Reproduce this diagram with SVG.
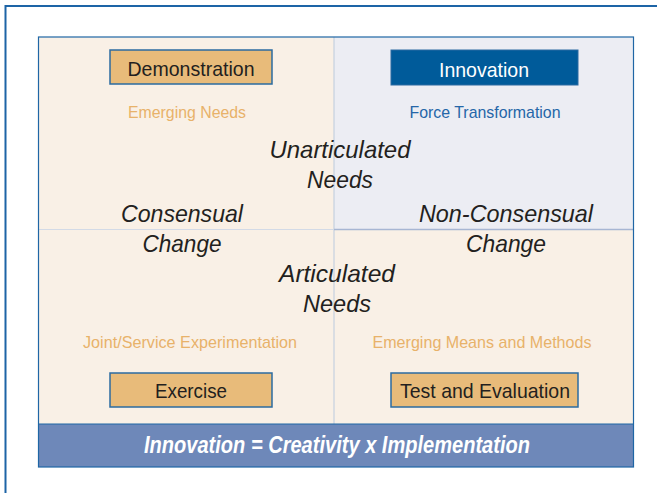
<svg xmlns="http://www.w3.org/2000/svg" width="657" height="493" viewBox="0 0 657 493">
<style>
.box{fill:#E8BB7A;stroke:#2B6BA1;stroke-width:1.5}
.t{font-family:"Liberation Sans",Arial,sans-serif;text-anchor:middle}
.lbl{font-size:21px;fill:#231F20}
.sub{font-size:17px}
.it{font-size:24px;font-style:italic;fill:#231F20}
</style>
<rect width="657" height="493" fill="#FFFFFF"/>
<rect x="5.5" y="6" width="700" height="600" fill="none" stroke="#1D64A6" stroke-width="2"/>
<g id="quadrants">
<rect x="38" y="37" width="296" height="192" fill="#F9F0E6"/>
<rect x="334" y="37" width="299" height="192" fill="#ECEDF3"/>
<rect x="38" y="229" width="595" height="195" fill="#F9F0E6"/>
<line x1="334" y1="37" x2="334" y2="424" stroke="#C5D0DF" stroke-width="1.2"/>
<line x1="38" y1="229.5" x2="334" y2="229.5" stroke="#D3DAE6" stroke-width="1.2"/>
<line x1="334" y1="229.5" x2="633" y2="229.5" stroke="#A7B6D3" stroke-width="1.5"/>
<rect x="38" y="424" width="595" height="43" fill="#6E88B9"/>
<rect x="38.5" y="37" width="595" height="430" fill="none" stroke="#1F66A5" stroke-width="1.2"/>
<line x1="38" y1="424" x2="633" y2="424" stroke="#1F66A5" stroke-width="1"/>
</g>
<g id="demonstration">
<rect class="box" x="110" y="50" width="162" height="34"/>
<text class="t lbl" x="191" y="76" textLength="127" lengthAdjust="spacingAndGlyphs">Demonstration</text>
</g>
<g id="innovation">
<rect x="391" y="50" width="187" height="35" fill="#005B9A" stroke="#2B6BA1" stroke-width="1"/>
<text class="t lbl" x="484" y="77" style="fill:#FFFFFF" textLength="90" lengthAdjust="spacingAndGlyphs">Innovation</text>
</g>
<g id="exercise">
<rect class="box" x="110" y="373" width="162" height="34"/>
<text class="t lbl" x="191" y="398" textLength="72" lengthAdjust="spacingAndGlyphs">Exercise</text>
</g>
<g id="test-evaluation">
<rect class="box" x="391" y="373" width="187" height="34"/>
<text class="t lbl" x="485" y="398" textLength="170" lengthAdjust="spacingAndGlyphs">Test and Evaluation</text>
</g>
<g id="labels">
<text class="t sub" x="187" y="118" fill="#E8B26A" textLength="118" lengthAdjust="spacingAndGlyphs">Emerging Needs</text>
<text class="t sub" x="485" y="118" fill="#2566A8" textLength="151" lengthAdjust="spacingAndGlyphs">Force Transformation</text>
<text class="t sub" x="190" y="348" fill="#E8B26A" textLength="214" lengthAdjust="spacingAndGlyphs">Joint/Service Experimentation</text>
<text class="t sub" x="482" y="348" fill="#E8B26A" textLength="219" lengthAdjust="spacingAndGlyphs">Emerging Means and Methods</text>
<text class="t it" x="340" y="158" textLength="141" lengthAdjust="spacingAndGlyphs">Unarticulated</text>
<text class="t it" x="340" y="188" textLength="66" lengthAdjust="spacingAndGlyphs">Needs</text>
<text class="t it" x="182" y="222" textLength="122" lengthAdjust="spacingAndGlyphs">Consensual</text>
<text class="t it" x="182" y="252" textLength="79" lengthAdjust="spacingAndGlyphs">Change</text>
<text class="t it" x="506" y="222" textLength="174" lengthAdjust="spacingAndGlyphs">Non-Consensual</text>
<text class="t it" x="506" y="252" textLength="80" lengthAdjust="spacingAndGlyphs">Change</text>
<text class="t it" x="337" y="282" textLength="116" lengthAdjust="spacingAndGlyphs">Articulated</text>
<text class="t it" x="337" y="312" textLength="68" lengthAdjust="spacingAndGlyphs">Needs</text>
<text class="t" x="337" y="453" font-size="23" font-style="italic" font-weight="bold" fill="#FFFFFF" textLength="386" lengthAdjust="spacingAndGlyphs">Innovation = Creativity x Implementation</text>
</g>
</svg>
